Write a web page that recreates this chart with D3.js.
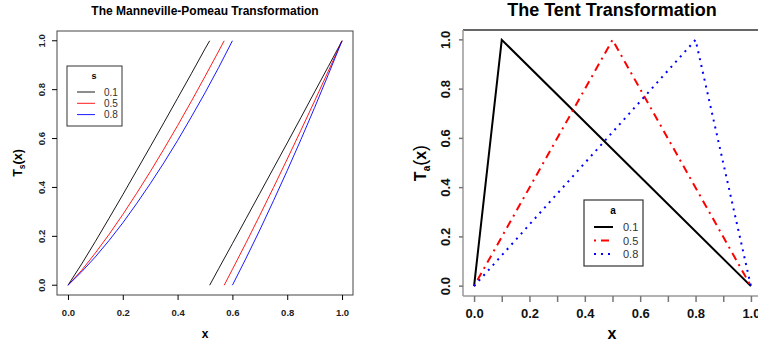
<!DOCTYPE html>
<html>
<head>
<meta charset="utf-8">
<script src="https://cdn.jsdelivr.net/npm/d3@7"></script>
<style>
  body { margin: 0; background: #fff; }
  svg { display: block; font-family: "Liberation Sans", Arial, sans-serif; }
</style>
</head>
<body>
<svg id="chart" width="758" height="345"></svg>
<script>
// Manneville-Pomeau map (two branches per s)
const mpLabels = ['0.1', '0.5', '0.8'];
const mpX1_s01 = [0, 0.05, 0.1, 0.15, 0.2, 0.25, 0.3, 0.35, 0.4, 0.45, 0.5, 0.517];
const mpY1_s01 = [0, 0.087, 0.179, 0.274, 0.370, 0.468, 0.566, 0.665, 0.765, 0.865, 0.967, 1.0];
const mpX2_s01 = [0.517, 0.55, 0.6, 0.65, 0.7, 0.75, 0.8, 0.85, 0.9, 0.95, 1.0];
const mpY2_s01 = [0, 0.068, 0.170, 0.273, 0.376, 0.479, 0.582, 0.686, 0.791, 0.895, 1.0];
const mpX1_s05 = [0, 0.05, 0.1, 0.15, 0.2, 0.25, 0.3, 0.35, 0.4, 0.45, 0.5, 0.55, 0.57];
const mpY1_s05 = [0, 0.061, 0.132, 0.208, 0.289, 0.375, 0.464, 0.557, 0.653, 0.752, 0.854, 0.958, 1.0];
const mpX2_s05 = [0.57, 0.6, 0.65, 0.7, 0.75, 0.8, 0.85, 0.9, 0.95, 1.0];
const mpY2_s05 = [0, 0.065, 0.174, 0.286, 0.400, 0.516, 0.634, 0.754, 0.876, 1.0];
const mpX1_s08 = [0, 0.05, 0.1, 0.15, 0.2, 0.25, 0.3, 0.35, 0.4, 0.45, 0.5, 0.55, 0.6];
const mpY1_s08 = [0, 0.055, 0.116, 0.183, 0.255, 0.333, 0.415, 0.501, 0.592, 0.688, 0.787, 0.891, 1.0];
const mpX2_s08 = [0.6, 0.65, 0.7, 0.75, 0.8, 0.85, 0.9, 0.95, 1.0];
const mpY2_s08 = [0, 0.111, 0.226, 0.346, 0.469, 0.596, 0.727, 0.862, 1.0];

// tent map, right panel
const tentLabels = ['0.1', '0.5', '0.8'];
const tentX_a01 = [0, 0.1, 1];
const tentX_a05 = [0, 0.5, 1];
const tentX_a08 = [0, 0.8, 1];
const tentY = [0, 1, 0];

const axisTicks = [0, 0.2, 0.4, 0.6, 0.8, 1.0];
const tentMinorTicks = [0, 0.1, 0.2, 0.3, 0.4, 0.5, 0.6, 0.7, 0.8, 0.9, 1.0];

const zip = (xs, ys) => xs.map((x, i) => [x, ys[i]]);

const svg = d3.select('#chart');

// ---------- left panel ----------
const lx = d3.scaleLinear().domain([-0.04, 1.04]).range([57, 353]);
const ly = d3.scaleLinear().domain([-0.04, 1.04]).range([295, 31]);
const left = svg.append('g');

left.append('rect')
  .attr('x', lx(-0.04)).attr('y', ly(1.04))
  .attr('width', lx(1.04) - lx(-0.04)).attr('height', ly(-0.04) - ly(1.04))
  .attr('fill', 'none').attr('stroke', '#444').attr('stroke-width', 1);

const lxAxis = left.append('g')
  .attr('transform', `translate(0,${ly(-0.04)})`)
  .call(d3.axisBottom(lx).tickValues(axisTicks).tickSize(5).tickPadding(9).tickFormat(d3.format('.1f')));
lxAxis.select('.domain').remove();
lxAxis.selectAll('text').attr('font-size', 9.5).attr('font-weight', 'bold').attr('fill', '#222');

const lyAxis = left.append('g')
  .attr('transform', `translate(${lx(-0.04)},0)`)
  .call(d3.axisLeft(ly).tickValues(axisTicks).tickSize(5).tickFormat(d3.format('.1f')));
lyAxis.select('.domain').remove();
lyAxis.selectAll('text')
  .attr('font-size', 9.5).attr('font-weight', 'bold').attr('fill', '#222')
  .attr('text-anchor', 'middle').attr('x', null).attr('dy', null)
  .attr('transform', d => `translate(-12,${ly(d)}) rotate(-90)`)
  .attr('y', 0);
lyAxis.selectAll('.tick').attr('transform', null);
lyAxis.selectAll('.tick line').attr('transform', d => `translate(0,${ly(d)})`);

const mpLine = d3.line().x(d => lx(d[0])).y(d => ly(d[1]));
const mpSeries = [
  [zip(mpX1_s01, mpY1_s01), zip(mpX2_s01, mpY2_s01)],
  [zip(mpX1_s05, mpY1_s05), zip(mpX2_s05, mpY2_s05)],
  [zip(mpX1_s08, mpY1_s08), zip(mpX2_s08, mpY2_s08)]
];
const mpColors = ['#000', '#ff0000', '#0000ff'];
mpSeries.forEach((branches, i) => {
  branches.forEach(b => {
    left.append('path').attr('d', mpLine(b))
      .attr('fill', 'none').attr('stroke', mpColors[i]).attr('stroke-width', 0.9);
  });
});

left.append('text').attr('x', 205).attr('y', 15)
  .attr('text-anchor', 'middle').attr('font-size', 12).attr('font-weight', 'bold')
  .text('The Manneville-Pomeau Transformation');
left.append('text').attr('x', 205).attr('y', 338)
  .attr('text-anchor', 'middle').attr('font-size', 12).attr('font-weight', 'bold')
  .text('x');
const lyl = left.append('text')
  .attr('transform', 'translate(22,163) rotate(-90)')
  .attr('text-anchor', 'middle').attr('font-size', 12.5).attr('font-weight', 'bold');
lyl.append('tspan').text('T');
lyl.append('tspan').attr('font-size', 8.5).attr('dy', 3).text('s');
lyl.append('tspan').attr('dy', -3).text('(x)');

// left legend
const lleg = left.append('g');
lleg.append('rect').attr('x', 67).attr('y', 66).attr('width', 55).attr('height', 60)
  .attr('fill', '#fff').attr('stroke', '#333');
lleg.append('text').attr('x', 94).attr('y', 79).attr('text-anchor', 'middle')
  .attr('font-size', 9).attr('font-weight', 'bold').text('s');
mpLabels.forEach((lab, i) => {
  const yy = 92 + i * 11.3;
  lleg.append('line').attr('x1', 77).attr('x2', 95).attr('y1', yy).attr('y2', yy)
    .attr('stroke', mpColors[i]).attr('stroke-width', 0.9);
  lleg.append('text').attr('x', 104).attr('y', yy + 3.5).attr('font-size', 10)
    .attr('fill', '#333').text(lab);
});

// ---------- right panel ----------
const rx = d3.scaleLinear().domain([-0.04, 1.04]).range([463, 762]);
const ry = d3.scaleLinear().domain([-0.04, 1.04]).range([296, 30]);
const right = svg.append('g');

right.append('line').attr('x1', rx(-0.04)).attr('x2', 758).attr('y1', ry(1.04)).attr('y2', ry(1.04))
  .attr('stroke', '#333').attr('stroke-width', 1.5);
right.append('line').attr('x1', rx(-0.04)).attr('x2', rx(-0.04)).attr('y1', ry(1.04)).attr('y2', ry(-0.04))
  .attr('stroke', '#999').attr('stroke-width', 1.5);
right.append('line').attr('x1', rx(-0.04)).attr('x2', 758).attr('y1', ry(-0.04)).attr('y2', ry(-0.04))
  .attr('stroke', '#999').attr('stroke-width', 1.5);

const rxAxis = right.append('g')
  .attr('transform', `translate(0,${ry(-0.04)})`)
  .call(d3.axisBottom(rx).tickValues(tentMinorTicks).tickSize(6).tickPadding(7)
    .tickFormat(d => (Math.round(d * 10) % 2 === 0) ? d3.format('.1f')(d) : ''));
rxAxis.select('.domain').remove();
rxAxis.selectAll('line').attr('stroke', '#777').attr('stroke-width', 1.5);
rxAxis.selectAll('text').attr('font-size', 13).attr('font-weight', 'bold').attr('fill', '#111');

const ryAxis = right.append('g')
  .attr('transform', `translate(${rx(-0.04)},0)`)
  .call(d3.axisLeft(ry).tickValues(axisTicks).tickSize(4).tickFormat(d3.format('.1f')));
ryAxis.select('.domain').remove();
ryAxis.selectAll('line').attr('stroke', '#777').attr('stroke-width', 1.5);
ryAxis.selectAll('text')
  .attr('font-size', 13).attr('font-weight', 'bold').attr('fill', '#111')
  .attr('text-anchor', 'middle').attr('x', null).attr('dy', null)
  .attr('transform', d => `translate(-13,${ry(d)}) rotate(-90)`)
  .attr('y', 0);
ryAxis.selectAll('.tick').attr('transform', null);
ryAxis.selectAll('.tick line').attr('transform', d => `translate(0,${ry(d)})`);

const tentLine = d3.line().x(d => rx(d[0])).y(d => ry(d[1]));
const tentSeries = [zip(tentX_a01, tentY), zip(tentX_a05, tentY), zip(tentX_a08, tentY)];
const tentColors = ['#000', '#ff0000', '#0000ff'];
const tentDash = [null, '2 5 8 5', '2 5'];
tentSeries.forEach((s, i) => {
  right.append('path').attr('d', tentLine(s))
    .attr('fill', 'none').attr('stroke', tentColors[i]).attr('stroke-width', 2)
    .attr('stroke-dasharray', tentDash[i]);
});

right.append('text').attr('x', 612).attr('y', 16)
  .attr('text-anchor', 'middle').attr('font-size', 18).attr('font-weight', 'bold')
  .text('The Tent Transformation');
right.append('text').attr('x', 612).attr('y', 339)
  .attr('text-anchor', 'middle').attr('font-size', 16).attr('font-weight', 'bold')
  .text('x');
const ryl = right.append('text')
  .attr('transform', 'translate(426,163) rotate(-90)')
  .attr('text-anchor', 'middle').attr('font-size', 16).attr('font-weight', 'bold');
ryl.append('tspan').text('T');
ryl.append('tspan').attr('font-size', 10).attr('dy', 4).text('a');
ryl.append('tspan').attr('dy', -4).attr('font-size', 18).attr('font-weight', 'normal').text('(');
ryl.append('tspan').text('x');
ryl.append('tspan').attr('font-size', 18).attr('font-weight', 'normal').text(')');

// right legend
const rleg = right.append('g');
rleg.append('rect').attr('x', 584).attr('y', 200).attr('width', 59).attr('height', 66)
  .attr('fill', '#fff').attr('stroke', '#333').attr('stroke-width', 1.2);
rleg.append('text').attr('x', 613).attr('y', 214).attr('text-anchor', 'middle')
  .attr('font-size', 10).attr('font-weight', 'bold').text('a');
tentLabels.forEach((lab, i) => {
  const yy = 227 + i * 13.5;
  rleg.append('line').attr('x1', 594).attr('x2', 613).attr('y1', yy).attr('y2', yy)
    .attr('stroke', tentColors[i]).attr('stroke-width', 2)
    .attr('stroke-dasharray', tentDash[i]);
  rleg.append('text').attr('x', 623).attr('y', yy + 4).attr('font-size', 11)
    .attr('fill', '#333').text(lab);
});
</script>
</body>
</html>
